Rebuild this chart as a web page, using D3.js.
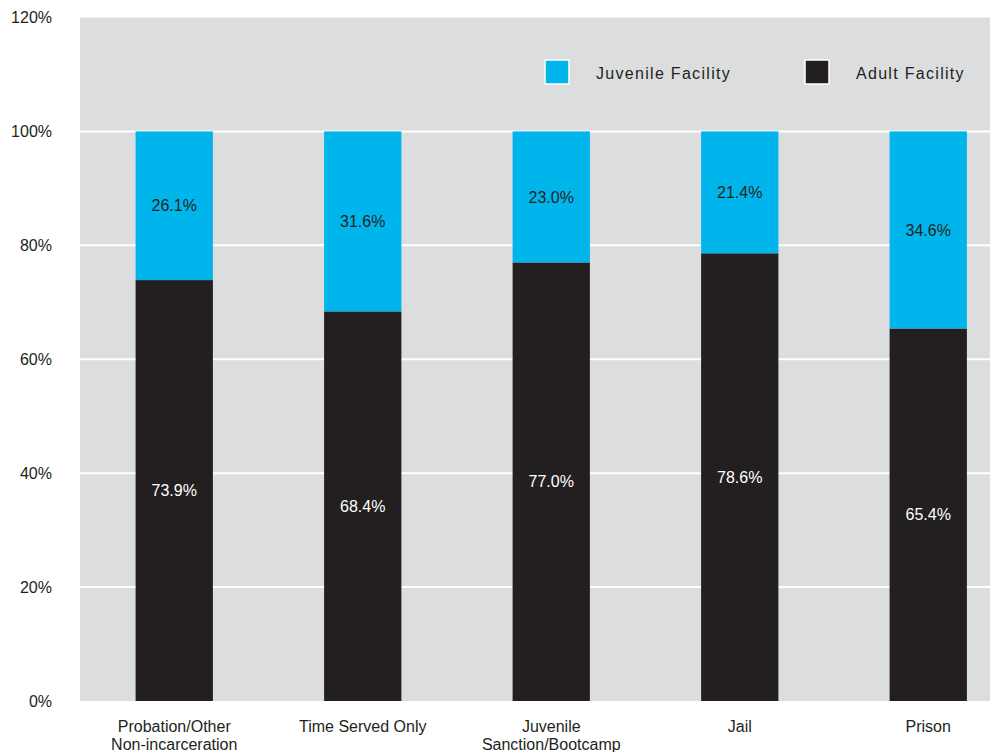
<!DOCTYPE html>
<html>
<head>
<meta charset="utf-8">
<script src="https://cdn.jsdelivr.net/npm/d3@7"></script>
<style>
  body { margin: 0; background: #ffffff; }
  svg { display: block; }
  text { font-family: "Liberation Sans", Arial, Helvetica, sans-serif; }
</style>
</head>
<body>
<svg id="chart" width="990" height="752"></svg>
<script>
const categories = [["Probation/Other", "Non-incarceration"], ["Time Served Only"], ["Juvenile", "Sanction/Bootcamp"], ["Jail"], ["Prison"]];
const adultValues = [73.9, 68.4, 77.0, 78.6, 65.4];
const juvenileValues = [26.1, 31.6, 23.0, 21.4, 34.6];
const yTicks = [0, 20, 40, 60, 80, 100, 120];
const seriesNames = ["Juvenile Facility", "Adult Facility"];

const colors = { juvenile: "#00b5ec", adult: "#231f20", bg: "#dcdddf", text: "#231f20" };

const svg = d3.select("#chart");
const W = 990, H = 752;
const mLeft = 80, mTop = 17.5, mBottom = 701;
const FS = 16;

const keys = categories.map((c, i) => i);
const x = d3.scaleBand().domain(keys).range([mLeft, mLeft + 5 * 188.5]).paddingInner(0.59).paddingOuter(0.295);
const y = d3.scaleLinear().domain([0, 120]).range([mBottom, mTop]);

// background
svg.append("rect").attr("x", mLeft).attr("y", y(120)).attr("width", W - mLeft).attr("height", y(0) - y(120)).attr("fill", colors.bg);

// gridlines
svg.append("g").selectAll("line").data(yTicks.filter(t => t > 0 && t < 120)).join("line")
  .attr("x1", mLeft).attr("x2", W).attr("y1", d => y(d)).attr("y2", d => y(d))
  .attr("stroke", "#ffffff").attr("stroke-width", 2);

// y axis labels
svg.append("g").selectAll("text").data(yTicks).join("text")
  .attr("x", 52).attr("y", d => y(d)).attr("dy", "0.35em")
  .attr("text-anchor", "end").attr("font-size", FS).attr("fill", colors.text)
  .text(d => d + "%");

// bars
const data = keys.map(i => ({ i, adult: adultValues[i], juvenile: juvenileValues[i] }));
const stack = d3.stack().keys(["adult", "juvenile"])(data);
const g = svg.append("g");
stack.forEach(layer => {
  const col = layer.key === "adult" ? colors.adult : colors.juvenile;
  g.append("g").selectAll("rect").data(layer).join("rect")
    .attr("x", d => x(d.data.i)).attr("width", x.bandwidth())
    .attr("y", d => y(d[1])).attr("height", d => y(d[0]) - y(d[1]))
    .attr("fill", col);
  g.append("g").selectAll("text").data(layer).join("text")
    .attr("x", d => x(d.data.i) + x.bandwidth() / 2)
    .attr("y", d => (y(d[0]) + y(d[1])) / 2).attr("dy", "0.35em")
    .attr("text-anchor", "middle").attr("font-size", FS)
    .attr("fill", layer.key === "adult" ? "#ffffff" : colors.text)
    .text(d => (d[1] - d[0]).toFixed(1) + "%");
});

// x labels
const xl = svg.append("g");
keys.forEach(i => {
  const t = xl.append("text").attr("x", x(i) + x.bandwidth() / 2).attr("y", 726)
    .attr("text-anchor", "middle").attr("font-size", FS).attr("fill", colors.text);
  categories[i].forEach((line, j) => {
    t.append("tspan").attr("x", x(i) + x.bandwidth() / 2).attr("dy", j === 0 ? "0.35em" : "1.13em").text(line);
  });
});

// legend
const legend = [
  { name: seriesNames[0], color: colors.juvenile, x: 545 },
  { name: seriesNames[1], color: colors.adult, x: 805 }
];
const lg = svg.append("g");
legend.forEach(l => {
  lg.append("rect").attr("x", l.x).attr("y", 60).attr("width", 24).attr("height", 24)
    .attr("fill", l.color).attr("stroke", "#ffffff").attr("stroke-width", 1.5);
  lg.append("text").attr("x", l.x + 51).attr("y", 73).attr("dy", "0.35em")
    .attr("font-size", FS).attr("letter-spacing", "1.3px").attr("fill", colors.text).text(l.name);
});
</script>
</body>
</html>
